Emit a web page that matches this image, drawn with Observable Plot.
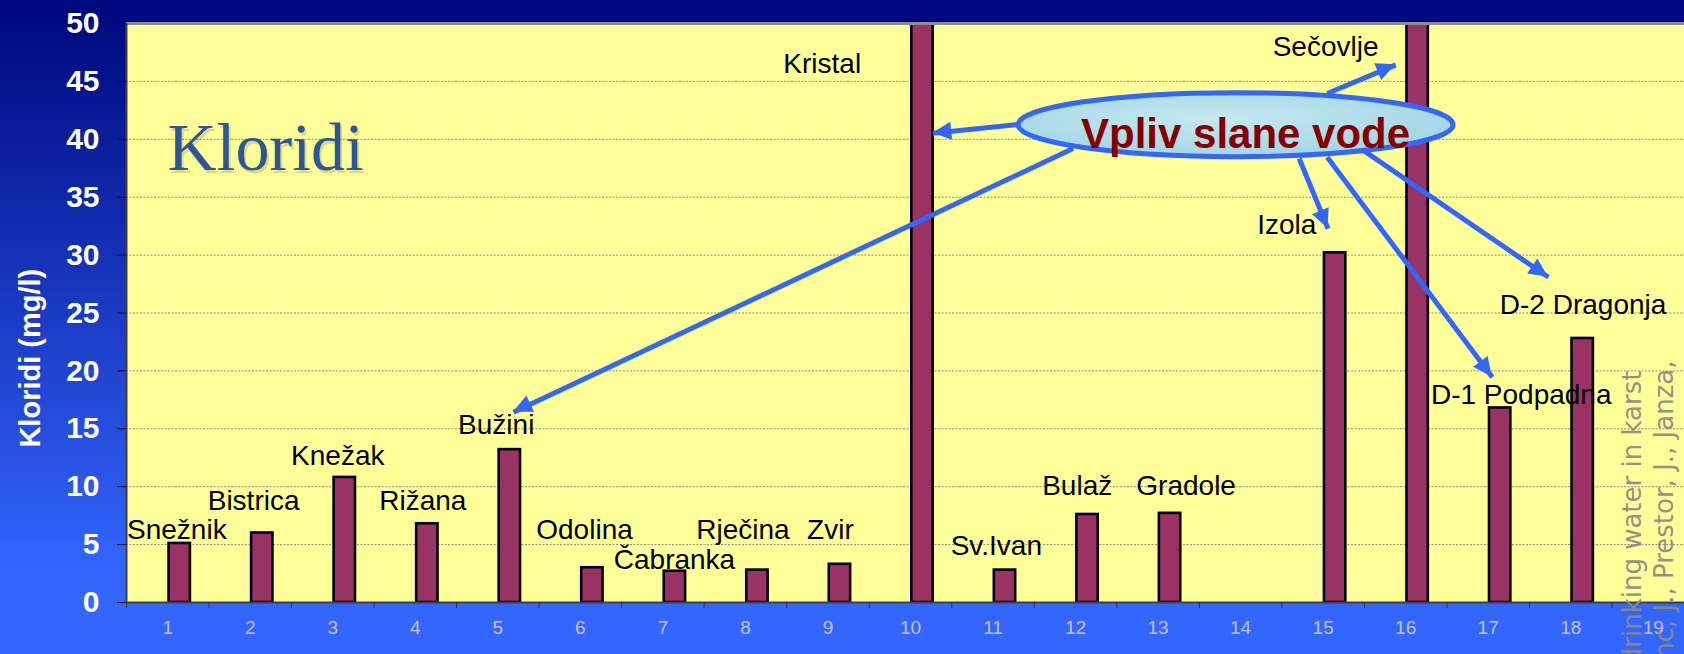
<!DOCTYPE html>
<html>
<head>
<meta charset="utf-8">
<script src="https://cdn.jsdelivr.net/npm/d3@7"></script>
<script src="https://cdn.jsdelivr.net/npm/@observablehq/plot@0.6"></script>
<style>
  html, body { margin: 0; padding: 0; width: 1684px; height: 654px; overflow: hidden; }
  body { background: linear-gradient(to bottom, #000a80 0px, #000a80 22px, #3366ff 575px, #3366ff 654px); }
  #chart svg { display: block; }
</style>
</head>
<body>
<div id="chart"></div>
<script>
// ---- data ----
const categories = [1, 2, 3, 4, 5, 6, 7, 8, 9, 10, 11, 12, 13, 14, 15, 16, 17, 18, 19];
// chloride (mg/l); 10 and 16 run off the top of the axis; 14 and 19 have no bar
const chloride = [5.1, 6.0, 10.8, 6.8, 13.2, 3.0, 2.7, 2.8, 3.3, 55, 2.8, 7.6, 7.7, null, 30.2, 55, 16.8, 22.8, null];
const yTicks = [0, 5, 10, 15, 20, 25, 30, 35, 40, 45, 50];
const gridTicks = [5, 10, 15, 20, 25, 30, 35, 40, 45];
const categoryBounds = [0.5, 1.5, 2.5, 3.5, 4.5, 5.5, 6.5, 7.5, 8.5, 9.5, 10.5, 11.5, 12.5, 13.5, 14.5, 15.5, 16.5, 17.5, 18.5, 19.5];

// station labels (anchor in chart units: category, mg/l)
const stationNames = ["Snežnik", "Bistrica", "Knežak", "Rižana", "Bužini", "Odolina", "Čabranka", "Rječina", "Zvir",
  "Kristal", "Sv.Ivan", "Bulaž", "Gradole", "Izola", "Sečovlje", "D-1 Podpadna", "D-2 Dragonja"];
const stationLabelX = [1.11, 2.04, 3.06, 4.09, 4.98, 6.05, 7.14, 7.97, 9.03, 8.93, 11.04, 12.02, 13.34, 14.56, 15.03, 17.40, 18.15];
const stationLabelY = [6.25, 8.75, 12.64, 8.75, 15.32, 6.25, 3.66, 6.25, 6.25, 46.49, 4.87, 10.05, 10.05, 32.58, 47.96, 17.91, 25.68];

// callout "Vpliv slane vode" (ellipse bounds and arrows, chart units)
const calloutText = "Vpliv slane vode";
const calloutTextPos = [14.06, 40.4];
const ellipseBounds = {x1: 11.31, x2: 16.58, y1: 38.46, y2: 43.98};
const arrowX1 = [11.31, 11.97, 15.05, 14.71, 15.05, 15.43];
const arrowY1 = [41.28, 39.20, 43.96, 38.34, 38.45, 39.32];
const arrowX2 = [10.27, 5.19, 15.88, 15.06, 17.05, 17.73];
const arrowY2 = [40.53, 16.43, 46.43, 32.27, 19.46, 28.09];

const chartTitle = "Kloridi";
const titlePos = [0.997, 39.19];
const yAxisTitle = "Kloridi (mg/l)";
const yAxisTitlePos = [-0.655, 21.1];
const sourceLines = ["drinking water in karst", "nc, J., Prestor, J., Janza,"];
const sourceX = [18.748, 19.136];
const sourceY = [20.03, 20.9];

// ---- tables ----
const bars = categories.map((c, i) => ({c, v: chloride[i]})).filter(d => d.v != null);
const stations = stationNames.map((name, i) => ({name, x: stationLabelX[i], y: stationLabelY[i]}));
const arrows = arrowX1.map((x1, i) => ({x1, y1: arrowY1[i], x2: arrowX2[i], y2: arrowY2[i]}));
const sources = sourceLines.map((t, i) => ({t, x: sourceX[i], y: sourceY[i]}));

const BLUE = "#3366ff";

function ellipseMark(index, scales) {
  const sx = scales.x, sy = scales.y;
  const xa = sx(ellipseBounds.x1), xb = sx(ellipseBounds.x2);
  const ya = sy(ellipseBounds.y1), yb = sy(ellipseBounds.y2);
  const g = d3.create("svg:g");
  const defs = g.append("defs");
  const grad = defs.append("radialGradient").attr("id", "icegrad").attr("cx", "45%").attr("cy", "40%").attr("r", "60%");
  grad.append("stop").attr("offset", "0%").attr("stop-color", "#c4e9f1");
  grad.append("stop").attr("offset", "100%").attr("stop-color", "#a3d6e4");
  g.append("ellipse")
    .attr("cx", (xa + xb) / 2).attr("cy", (ya + yb) / 2)
    .attr("rx", Math.abs(xb - xa) / 2).attr("ry", Math.abs(yb - ya) / 2)
    .attr("fill", "url(#icegrad)").attr("stroke", BLUE).attr("stroke-width", 5);
  return g.node();
}

function arrowHeadsMark(index, scales) {
  const sx = scales.x, sy = scales.y;
  const g = d3.create("svg:g").attr("fill", BLUE);
  for (const a of arrows) {
    const px1 = sx(a.x1), py1 = sy(a.y1), px2 = sx(a.x2), py2 = sy(a.y2);
    const len = Math.hypot(px2 - px1, py2 - py1);
    const ux = (px2 - px1) / len, uy = (py2 - py1) / len;
    const bx = px2 - ux * 19, by = py2 - uy * 19;
    const nx = -uy, ny = ux;
    g.append("polygon").attr("points", [
      [px2, py2], [bx + nx * 9, by + ny * 9], [bx - nx * 9, by - ny * 9]
    ].map(p => p.join(",")).join(" "));
  }
  return g.node();
}

const plot = Plot.plot({
  width: 1694,
  height: 654,
  marginTop: 23,
  marginBottom: 52,
  marginLeft: 126,
  marginRight: 0,
  style: {background: "transparent", maxWidth: "none", overflow: "visible", fontFamily: "'Liberation Sans', Arial, sans-serif"},
  x: {type: "linear", domain: [0.5, 19.5], label: null},
  y: {domain: [0, 50], label: null},
  marks: [
    Plot.frame({fill: "#ffff99", stroke: null}),
    Plot.gridY(gridTicks, {stroke: "#8a8a8a", strokeOpacity: 1, strokeWidth: 1, strokeDasharray: "2,1.5"}),
    Plot.rectY(bars, {
      x1: d => d.c, x2: d => d.c + 0.5, y1: 0, y2: d => d.v,
      insetLeft: 1.3, insetRight: 18.6,
      fill: "#993366", stroke: "#000", strokeWidth: 2.6, clip: true
    }),
    Plot.ruleY([50], {stroke: "#8e8e8e", strokeWidth: 3}),
    Plot.ruleY([0], {stroke: "#404040", strokeWidth: 2}),
    Plot.ruleX([0.5], {stroke: "#404040", strokeWidth: 2}),
    Plot.axisY(yTicks, {
      anchor: "left", tickSize: 9, tickPadding: 18, label: null,
      fontSize: 30, fontWeight: "bold", fill: "#ffffff", stroke: "#111"
    }),
    Plot.axisX(categories, {
      anchor: "bottom", tickSize: 0, tickPadding: 17.5, label: null,
      fontSize: 19, fill: "#c3c3c8", tickFormat: d => String(d)
    }),
    Plot.axisX(categoryBounds, {
      anchor: "bottom", tickSize: 6, label: null, tickFormat: () => "", stroke: "#333"
    }),
    Plot.text([yAxisTitle], {
      x: () => yAxisTitlePos[0], y: () => yAxisTitlePos[1], text: d => d,
      rotate: -90, fontSize: 29, fontWeight: "bold", fill: "#ffffff"
    }),
    Plot.text(sources, {
      x: d => d.x, y: d => d.y, text: d => d.t, rotate: -90, textAnchor: "end",
      fontSize: 26, fontWeight: "normal", fontFamily: "'DejaVu Sans', sans-serif", fill: "#8b8b84", fillOpacity: 0.95
    }),
    Plot.text(stations, {
      x: d => d.x, y: d => d.y, text: d => d.name,
      fontSize: 28, fill: "#000"
    }),
    Plot.text([chartTitle], {
      x: () => titlePos[0], y: () => titlePos[1], text: d => d, dx: 2, dy: 3,
      textAnchor: "start", fontSize: 68, fontFamily: "'Liberation Serif', serif", fill: "#6e6e46", fillOpacity: 0.25
    }),
    Plot.text([chartTitle], {
      x: () => titlePos[0], y: () => titlePos[1], text: d => d,
      textAnchor: "start", fontSize: 68, fontFamily: "'Liberation Serif', serif", fill: "#2f5597"
    }),
    Plot.link(arrows, {x1: "x1", y1: "y1", x2: "x2", y2: "y2", stroke: BLUE, strokeWidth: 5}),
    arrowHeadsMark,
    ellipseMark,
    Plot.text([calloutText], {
      x: () => calloutTextPos[0], y: () => calloutTextPos[1], text: d => d,
      fontSize: 42, fontWeight: "bold", fill: "#860000"
    })
  ]
});

document.getElementById("chart").appendChild(plot);
</script>
</body>
</html>
